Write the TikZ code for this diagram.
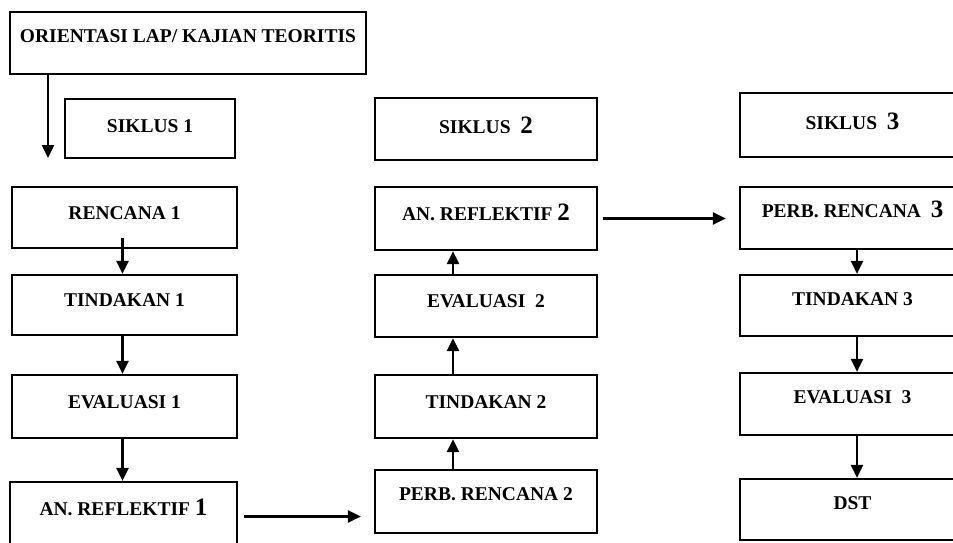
\documentclass[tikz,border=0pt]{standalone}
\usepackage{fontspec}
\setmainfont{Liberation Serif}
\usetikzlibrary{arrows.meta}
\begin{document}
\begin{tikzpicture}[x=1pt,y=-1pt,
  bx/.style={draw, line width=2.2pt, inner sep=0pt, text height=13pt, text depth=10pt,
    font=\fontsize{19.5}{21}\selectfont\bfseries},
  sk/.style={bx, text depth=5pt},
  arr/.style={line width=2.4pt, -{Triangle[length=13pt,width=12pt]}}]
\useasboundingbox (0,0) rectangle (953,542);
\clip (0,0) rectangle (953,542);
\newcommand{\bn}[1]{{\fontsize{25}{25}\selectfont #1}}
% column 1
\node[bx, minimum width=356pt, minimum height=62pt, text depth=14pt] (orient) at (188,43) {ORIENTASI LAP/ KAJIAN TEORITIS};
\node[sk, minimum width=170pt, minimum height=59pt] (sik1) at (150,128.5) {SIKLUS 1};
\node[bx, minimum width=225pt, minimum height=61pt] (ren1) at (124.5,217.5) {RENCANA 1};
\node[bx, minimum width=225pt, minimum height=60pt] (tin1) at (124.5,305) {TINDAKAN 1};
\node[bx, minimum width=225pt, minimum height=63pt] (eva1) at (124.5,406.5) {EVALUASI 1};
\node[bx, minimum width=227pt, minimum height=63pt] (ref1) at (123.5,513.5) {AN. REFLEKTIF \bn{1}};
% column 2
\node[sk, minimum width=222pt, minimum height=62pt] (sik2) at (486,129) {SIKLUS\ \ \bn{2}};
\node[bx, minimum width=222pt, minimum height=63pt] (ref2) at (486,218.5) {AN. REFLEKTIF \bn{2}};
\node[bx, minimum width=222pt, minimum height=62pt] (eva2) at (486,306) {EVALUASI\ \ 2};
\node[bx, minimum width=222pt, minimum height=63pt] (tin2) at (486,406.5) {TINDAKAN 2};
\node[bx, minimum width=222pt, minimum height=63pt, text depth=16pt] (per2) at (486,501.5) {PERB. RENCANA 2};
% column 3
\node[sk, minimum width=225pt, minimum height=64pt] (sik3) at (852.5,125) {SIKLUS\ \ \bn{3}};
\node[bx, minimum width=225pt, minimum height=62pt, text depth=14pt] (per3) at (852.5,218) {PERB. RENCANA\ \ \bn{3}};
\node[bx, minimum width=225pt, minimum height=61pt, text depth=14pt] (tin3) at (852.5,305.5) {TINDAKAN 3};
\node[bx, minimum width=225pt, minimum height=62pt, text depth=14pt] (eva3) at (852.5,404) {EVALUASI\ \ 3};
\node[bx, minimum width=225pt, minimum height=61pt, text depth=14pt] (dst) at (852.5,509.5) {DST};
% connectors
\coordinate (o1) at (48,158);
\draw[arr] ([xshift=-140pt]orient.south) -- (o1);
\draw[arr] ([xshift=-2pt,yshift=11pt]ren1.south) -- ([xshift=-2pt]tin1.north);
\draw[arr] ([xshift=-2pt]tin1.south) -- ([xshift=-2pt]eva1.north);
\draw[arr] ([xshift=-2pt]eva1.south) -- ([xshift=-1pt]ref1.north);
\draw[arr, shorten <=6pt, shorten >=13pt] ([yshift=-3pt]ref1.east) -- ([yshift=-3pt]ref1.east -| per2.west);
\draw[arr] ([xshift=-33pt]per2.north) -- ([xshift=-33pt]tin2.south);
\draw[arr] ([xshift=-33pt]tin2.north) -- ([xshift=-33pt]eva2.south);
\draw[arr] ([xshift=-33pt]eva2.north) -- ([xshift=-33pt]ref2.south);
\draw[arr, shorten <=5pt, shorten >=13pt] (ref2.east) -- (ref2.east -| per3.west);
\draw[arr] ([xshift=4.5pt]per3.south) -- ([xshift=4.5pt]tin3.north);
\draw[arr] ([xshift=4.5pt]tin3.south) -- ([xshift=4.5pt]eva3.north);
\draw[arr] ([xshift=4.5pt]eva3.south) -- ([xshift=4.5pt]dst.north);
\end{tikzpicture}
\end{document}
